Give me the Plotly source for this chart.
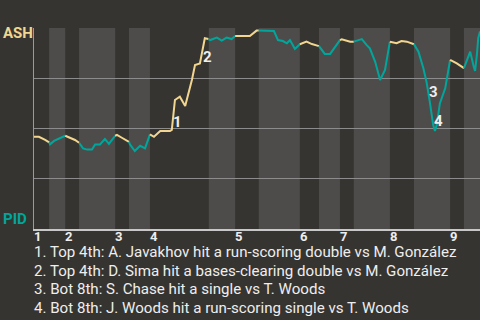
import numpy as np
import plotly.graph_objects as go

# Game progress (0-100) and ASH win probability (%)
progress = [0, 1.1, 2.5, 3.4, 3.6, 4.5, 5.8, 7.0, 8.1, 9.2, 10.1, 11.0, 11.9, 13.0, 13.7, 14.8,
            15.9, 16.8, 18.2, 18.6, 19.7, 21.3, 21.5, 22.6, 23.8, 24.9, 26.0, 26.9, 28.3, 30.5,
            30.9, 31.6, 32.7, 33.9, 35.4, 36.1, 37.2, 38.3, 39.1, 39.5, 41.0, 42.1, 43.2, 44.3,
            45.1, 48.4, 49.9, 50.4, 53.3, 53.8, 54.7, 55.8, 56.7, 57.4, 58.5, 59.6, 61.1, 62.3,
            63.7, 63.9, 65.2, 66.4, 68.6, 69.0, 70.9, 71.7, 73.5, 74.6, 75.3, 76.5, 77.6, 78.7,
            79.8, 81.3, 82.4, 83.6, 85.2, 86.2, 87.3, 88.0, 88.8, 89.5, 89.9, 90.3, 91.0, 92.2,
            93.3, 94.8, 96.4, 97.8, 98.6, 98.9, 99.3, 99.6, 100]
win_prob = [45.9, 45.9, 44.3, 43.1, 42.1, 43.8, 45.1, 46.4, 45.4, 44.3, 42.9, 40.1, 39.5, 39.5, 42.1, 42.1,
            44.8, 42.4, 46.4, 46.8, 45.4, 43.4, 42.1, 38.8, 41.4, 40.1, 47.1, 45.9, 48.8, 48.8,
            49.3, 64.2, 65.8, 61.2, 74.1, 81.6, 82.4, 94.9, 94.5, 94.0, 95.2, 93.7, 95.2, 94.5,
            96.0, 96.0, 98.7, 98.7, 98.7, 98.5, 94.0, 93.5, 92.4, 94.0, 89.6, 91.9, 93.2, 92.0,
            91.0, 91.0, 87.1, 87.1, 94.0, 94.4, 93.2, 93.2, 94.5, 91.5, 89.9, 83.2, 74.1, 79.1,
            93.2, 92.4, 93.5, 93.2, 91.9, 88.2, 80.0, 73.3, 62.5, 51.7, 48.8, 51.7, 62.5, 70.0,
            84.1, 82.4, 80.0, 88.2, 80.7, 78.6, 86.6, 94.9, 98.2]

# Half-inning boundaries (progress units): top1, bot1, top2, ...
half_bounds = [0, 3.4, 7.0, 10.1, 18.2, 21.3, 26.0, 39.2, 45.1, 50.4, 59.6, 63.9, 68.6,
               71.7, 79.8, 85.2, 93.3, 96.4, 100]
innings = ["1", "2", "3", "4", "5", "6", "7", "8", "9"]

events_x = [31.6, 38.3, 88.8, 89.5]
events_text = ["1", "2", "3", "4"]
notes = [
    "1. Top 4th: A. Javakhov hit a run-scoring double vs M. González",
    "2. Top 4th: D. Sima hit a bases-clearing double vs M. González",
    "3. Bot 8th: S. Chase hit a single vs T. Woods",
    "4. Bot 8th: J. Woods hit a run-scoring single vs T. Woods",
]

BG = "#363431"
LIGHT = "#4e4c4a"
YEL = "#f2d68f"
TEAL = "#00a69c"
FONT = "Roboto"

fig = go.Figure()

# Background bands for bottom halves
shapes = []
for i in range(len(half_bounds) - 1):
    if i % 2 == 1:
        shapes.append(dict(type="rect", xref="x", yref="paper", x0=half_bounds[i], x1=half_bounds[i + 1],
                           y0=0, y1=1, fillcolor=LIGHT, line=dict(width=0), layer="below"))

def half_of(x):
    for i in range(len(half_bounds) - 1):
        if x <= half_bounds[i + 1] + 1e-9:
            return i
    return len(half_bounds) - 2

# Build colored segments (top halves yellow, bottom halves teal)
segs = []
cur = None
for k in range(1, len(progress)):
    col = YEL if half_of(progress[k]) % 2 == 0 else TEAL
    if cur is None or cur["c"] != col:
        cur = {"c": col, "x": [progress[k - 1]], "y": [win_prob[k - 1]]}
        segs.append(cur)
    cur["x"].append(progress[k])
    cur["y"].append(win_prob[k])

for s in segs:
    fig.add_trace(go.Scatter(x=s["x"], y=s["y"], mode="lines",
                             line=dict(color=s["c"], width=2), hoverinfo="skip", showlegend=False))

ann = []
# inning labels
for j, lab in enumerate(innings):
    ann.append(dict(x=half_bounds[2 * j], y=0, xref="x", yref="paper", text="<b>%s</b>" % lab,
                    showarrow=False, xanchor="left", yanchor="middle", yshift=-7, xshift=-1,
                    borderpad=0, font=dict(family=FONT, size=13, color="#eeeeee")))
# event labels
shifts = [(3, -22), (3, -19), (3, 11), (5, 4)]
for j, ex in enumerate(events_x):
    ey = float(np.interp(ex, progress, win_prob))
    ann.append(dict(x=ex, y=ey, xref="x", yref="y", text="<b>%s</b>" % events_text[j], showarrow=False,
                    xanchor="center", yanchor="middle", xshift=shifts[j][0], yshift=shifts[j][1],
                    font=dict(family=FONT, size=15, color="#eeeeee")))
# notes
for j, t in enumerate(notes):
    ann.append(dict(x=0, y=0, xref="paper", yref="paper", text=t, showarrow=False,
                    xanchor="left", yanchor="middle", yshift=-(23 + 18.5 * j), xshift=-1,
                    borderpad=0, font=dict(family=FONT, size=15.1, color="#eeeeee")))
# team labels
ann.append(dict(x=0, y=100, xref="paper", yref="y", text="<b>ASH</b>", showarrow=False,
                xanchor="left", yanchor="middle", xshift=-33, yshift=-5,
                font=dict(family=FONT, size=15, color=YEL)))
ann.append(dict(x=0, y=0, xref="paper", yref="y", text="<b>PID</b>", showarrow=False,
                xanchor="left", yanchor="middle", xshift=-33, yshift=10,
                font=dict(family=FONT, size=15, color=TEAL)))

fig.update_layout(
    width=480, height=320,
    margin=dict(l=34, r=0, t=28, b=91),
    paper_bgcolor=BG, plot_bgcolor=BG,
    shapes=shapes, annotations=ann,
    xaxis=dict(range=[0, 100], showgrid=False, zeroline=False, showticklabels=False,
               showline=True, linecolor="#c8c8c8", linewidth=2, fixedrange=True),
    yaxis=dict(range=[0, 100], tickvals=[25, 50, 75, 100], showticklabels=False,
               gridcolor="#8c8c8c", gridwidth=1, zeroline=False,
               showline=True, linecolor="#9a9a9a", linewidth=1, fixedrange=True),
    font=dict(family=FONT),
)

fig.write_html("out.html", config={"displayModeBar": False})
